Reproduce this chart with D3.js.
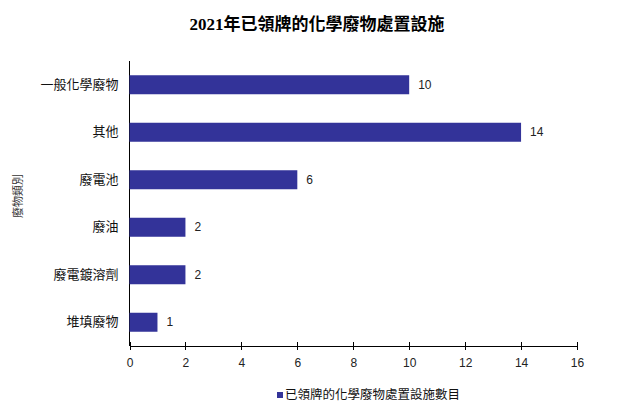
<!doctype html>
<html>
<head>
<meta charset="utf-8">
<style>
	body {
		margin: 0;
		background: #fff;
	}
	.axis path, .axis line {
		stroke: #000;
		shape-rendering: crispEdges;
	}
	.axis text {
		font: 12px Arial, "Liberation Sans", sans-serif;
		fill: #222;
	}
	.cat text {
		font: 13px "Noto Sans CJK TC", sans-serif;
		fill: #111;
	}
	.bar {
		fill: #333399;
	}
	.val {
		font: 12px Arial, "Liberation Sans", sans-serif;
		fill: #222;
	}
	#chart-title {
		font: bold 17px "Liberation Serif", "Noto Sans CJK TC", serif;
	}
</style>
<script src="https://d3js.org/d3.v7.min.js"></script>
</head>
<body>
<div id="canvas"></div>
<script>
	var categories = ["一般化學廢物", "其他", "廢電池", "廢油", "廢電鍍溶劑", "堆填廢物"],
		counts = [10, 14, 6, 2, 2, 1],
		x_ticks = [0, 2, 4, 6, 8, 10, 12, 14, 16];

	var chart_title = "2021年已領牌的化學廢物處置設施",
		y_title = "廢物類別",
		series_name = "已領牌的化學廢物處置設施數目";

	var width = 617,
		height = 417,
		margin = {top: 61, right: 40, bottom: 71, left: 129.5};

	var svg = d3.select("#canvas")
		.append("svg")
		.attr("width", width)
		.attr("height", height);

	var scale_x = d3.scaleLinear()
		.domain([0, 16])
		.range([margin.left, width - margin.right]);

	var scale_y = d3.scaleBand()
		.domain(categories)
		.range([margin.top, height - margin.bottom])
		.paddingInner(0.6)
		.paddingOuter(0.3);

	var data = categories.map((c, i) => ({cat: c, count: counts[i]}));

	// x axis, ticks cross the line
	var gx = svg.append("g")
		.attr("class", "axis")
		.attr("transform", `translate(0, ${height - margin.bottom})`)
		.call(d3.axisBottom(scale_x)
			.tickValues(x_ticks)
			.tickSize(4)
			.tickSizeOuter(0)
			.tickPadding(8));
	gx.selectAll(".tick line").attr("y1", -4);

	// y axis, labels only
	var gy = svg.append("g")
		.attr("class", "axis cat")
		.attr("transform", `translate(${margin.left}, 0)`)
		.call(d3.axisLeft(scale_y).tickSize(0).tickPadding(11));
	gy.select(".domain").attr("d", `M0,${margin.top}V${height - margin.bottom}`);

	svg.selectAll(".bar")
		.data(data)
	  .enter().append("rect")
		.attr("class", "bar")
		.attr("x", scale_x(0))
		.attr("y", d => scale_y(d.cat))
		.attr("width", d => scale_x(d.count) - scale_x(0))
		.attr("height", scale_y.bandwidth());

	svg.selectAll(".val")
		.data(data)
	  .enter().append("text")
		.attr("class", "val")
		.attr("x", d => scale_x(d.count) + 9)
		.attr("y", d => scale_y(d.cat) + scale_y.bandwidth() / 2)
		.attr("dy", "0.35em")
		.text(d => d.count);

	svg.append("text")
		.attr("id", "chart-title")
		.attr("x", 317)
		.attr("y", 30)
		.attr("text-anchor", "middle")
		.text(chart_title);

	svg.append("text")
		.attr("transform", `translate(22, 196) rotate(-90)`)
		.attr("text-anchor", "middle")
		.style("font", "11px 'Noto Sans CJK TC', sans-serif")
		.style("fill", "#333")
		.text(y_title);

	// legend
	var lg = svg.append("g")
		.attr("transform", "translate(277, 395)");
	lg.append("rect")
		.attr("x", 0)
		.attr("y", -3)
		.attr("width", 6)
		.attr("height", 6)
		.attr("class", "bar");
	lg.append("text")
		.attr("x", 8)
		.attr("dy", "0.35em")
		.style("font", "12.5px 'Noto Sans CJK TC', sans-serif")
		.style("fill", "#111")
		.text(series_name);
</script>
</body>
</html>
